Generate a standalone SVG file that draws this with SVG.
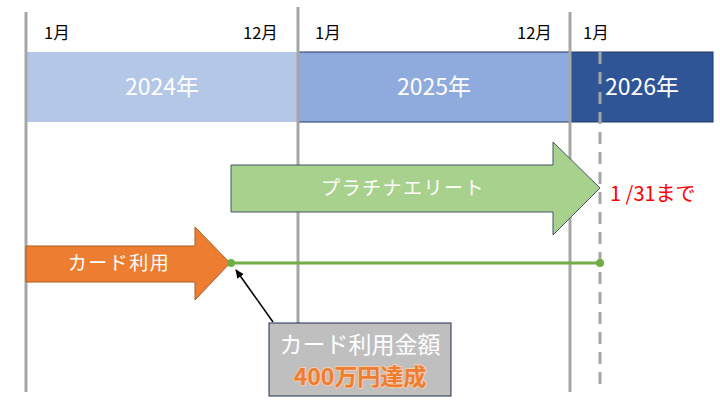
<svg xmlns="http://www.w3.org/2000/svg" width="720" height="405" viewBox="0 0 720 405">
<style>
text{font-family:"Noto Sans CJK JP","Noto Sans",sans-serif}
.m{font-size:16.5px;fill:#000}
.y{font-size:23px;fill:#fff;text-anchor:middle}
.vl{stroke:#A6A6A6;stroke-width:3;fill:none}
</style>
<defs>
<marker id="ah" markerWidth="10" markerHeight="10" refX="8" refY="5" orient="auto" markerUnits="userSpaceOnUse">
<path d="M0,1 L9,5 L0,9 z" fill="#000"/>
</marker>
</defs>
<rect width="720" height="405" fill="#fff"/>
<g id="years">
<rect x="26" y="52" width="272" height="70" fill="#B4C7E7"/>
<rect x="298" y="52" width="272" height="70" fill="#8FAADC" stroke="#1F3864" stroke-width="1"/>
<rect x="570" y="52" width="143" height="70" fill="#2F5597" stroke="#1F3864" stroke-width="1"/>
<text class="y" x="162" y="95">2024年</text>
<text class="y" x="434" y="95">2025年</text>
<text class="y" x="642" y="95">2026年</text>
</g>
<g id="grid">
<line class="vl" x1="26" y1="12" x2="26" y2="392"/>
<line class="vl" x1="298" y1="7" x2="298" y2="392"/>
<line class="vl" x1="570" y1="12" x2="570" y2="392"/>
<line class="vl" x1="600" y1="52" x2="600" y2="392" stroke-dasharray="12,8"/>
</g>
<g id="months">
<text class="m" x="44" y="39">1月</text>
<text class="m" x="243" y="39">12月</text>
<text class="m" x="315" y="39">1月</text>
<text class="m" x="517" y="39">12月</text>
<text class="m" x="583" y="39">1月</text>
</g>
<g id="platinum">
<path d="M231,165 H553 V142 L600,188 L553,235 V212 H231 Z" fill="#A9D18E" stroke="#44546A" stroke-width="1"/>
<text x="403" y="195" font-size="19" fill="#fff" text-anchor="middle" letter-spacing="1.5">プラチナエリート</text>
</g>
<g id="until">
<text x="610" y="201" font-size="20" fill="#FF0000">1 /31まで</text>
</g>
<g id="card">
<path d="M26,246 H195 V227 L230,263 L195,300 V282 H26 Z" fill="#ED7D31" stroke="#AE5A21" stroke-width="1"/>
<text x="119" y="270" font-size="19" fill="#fff" text-anchor="middle" letter-spacing="1.5">カード利用</text>
</g>
<g id="connectors">
<line x1="231" y1="263" x2="600" y2="263" stroke="#70AD47" stroke-width="3"/>
<circle cx="231" cy="263" r="4" fill="#70AD47"/>
<circle cx="600" cy="263" r="4" fill="#70AD47"/>
<line x1="273" y1="322" x2="236" y2="270" stroke="#000" stroke-width="1.5" marker-end="url(#ah)"/>
</g>
<g id="note">
<rect x="269" y="323" width="182" height="73" fill="#BFBFBF" stroke="#1F2D4A" stroke-width="1"/>
<text x="360" y="353" font-size="23" fill="#fff" text-anchor="middle">カード利用金額</text>
<text x="360" y="385" font-size="23" font-weight="bold" fill="#ED7D31" stroke="#F8CBAD" stroke-width="2" paint-order="stroke" text-anchor="middle">400万円達成</text>
</g>
</svg>
